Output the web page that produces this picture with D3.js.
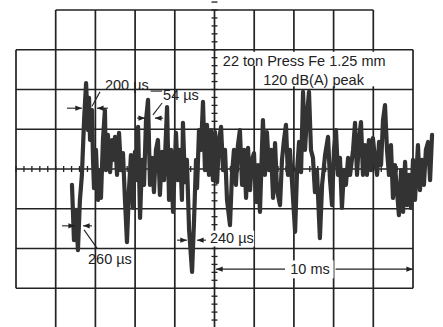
<!DOCTYPE html>
<html><head><meta charset="utf-8">
<script src="https://cdn.jsdelivr.net/npm/d3@7"></script>
<style>
html,body{margin:0;padding:0;background:#fff;}
svg{display:block;}
text{font-family:"Liberation Sans",Arial,sans-serif;fill:#222;}
</style></head>
<body>
<svg id="c" width="443" height="327"></svg>
<script>
// Time axis in ms (2 ms/div, 10 divisions), amplitude in divisions
const traceTime = [2.82,2.92,3.02,3.12,3.22,3.32,3.43,3.53,3.63,3.68,3.73,3.83,3.88,3.93,4.03,4.13,4.23,4.28,4.38,4.48,4.53,4.63,4.74,4.84,4.89,4.99,5.09,5.19,5.29,5.39,5.49,5.59,5.69,5.79,5.89,5.99,6.10,6.15,6.25,6.35,6.45,6.55,6.65,6.75,6.85,6.95,7.05,7.15,7.25,7.36,7.46,7.61,7.71,7.81,7.91,8.01,8.06,8.16,8.26,8.36,8.41,8.51,8.61,8.72,8.87,8.97,9.07,9.12,9.22,9.32,9.42,9.52,9.62,9.72,9.82,9.92,10.03,10.13,10.23,10.33,10.43,10.53,10.63,10.78,10.88,10.98,11.08,11.18,11.28,11.39,11.49,11.59,11.69,11.79,11.89,11.99,12.09,12.19,12.29,12.39,12.44,12.54,12.64,12.75,12.85,12.95,13.05,13.15,13.30,13.40,13.50,13.60,13.70,13.80,13.90,14.06,14.16,14.26,14.36,14.46,14.56,14.66,14.76,14.86,14.96,15.06,15.16,15.31,15.42,15.57,15.72,15.82,15.92,16.02,16.12,16.22,16.32,16.42,16.52,16.62,16.73,16.83,16.98,17.08,17.18,17.28,17.38,17.48,17.58,17.68,17.78,17.88,17.98,18.09,18.19,18.29,18.39,18.49,18.59,18.69,18.79,18.89,18.99,19.09,19.19,19.29,19.40,19.50,19.60,19.70,19.80,19.90,20.00,20.10,20.25,20.35,20.45,20.55,20.65,20.76,20.86,20.96];
const traceAmp = [-0.40,-1.79,-1.03,-2.04,-0.78,-0.15,1.23,2.16,0.98,1.79,0.73,1.48,0.23,-0.48,0.48,-0.78,-0.03,-0.73,0.73,1.48,-0.03,0.86,-0.08,0.73,0.23,0.81,-0.15,0.91,-0.03,0.40,-0.78,-1.84,-0.53,0.35,-0.98,0.43,-0.28,1.06,-1.23,0.23,-0.40,1.23,1.74,-0.40,0.28,-0.58,0.48,0.73,-0.65,0.43,-0.28,1.56,-0.78,0.48,-1.08,0.23,0.91,-0.28,0.48,-0.78,1.16,-0.33,0.23,-1.53,-2.59,-1.28,0.23,-0.48,0.98,0.48,1.69,-0.03,1.11,-0.15,0.98,-0.28,0.93,-0.33,0.73,1.06,-0.03,0.48,-0.78,-1.41,-0.15,0.48,-0.40,0.60,0.98,-0.40,0.48,-0.73,0.53,-0.53,0.23,0.40,-0.83,0.10,-1.08,0.48,1.23,-0.15,0.93,-0.03,0.48,-0.73,0.65,-0.53,-0.91,0.23,0.73,1.11,-0.15,0.48,-0.28,-1.58,-0.03,0.68,-0.08,1.94,0.48,1.36,1.94,0.48,0.28,-0.58,-0.03,-1.74,-0.40,0.35,0.81,-0.28,-0.91,0.48,0.98,-0.15,0.28,-0.98,-0.03,-0.40,0.28,-0.15,0.48,1.16,-0.15,0.73,1.18,-0.15,0.60,-0.15,0.73,-0.03,0.78,0.23,-0.15,0.68,0.10,1.23,1.61,0.48,-0.15,0.60,-0.73,0.10,-0.53,-1.16,-0.03,-1.08,0.18,-0.91,-0.15,-0.98,0.23,-0.78,0.60,-0.53,0.23,-0.40,0.48,0.68,-0.28,0.86];

const titleLines = ["22 ton Press Fe 1.25 mm", "120 dB(A) peak"];
const widthLabels = ["200 \u00b5s", "54 \u00b5s", "260  \u00b5s", "240 \u00b5s"];
const timebaseLabel = "10 ms";

const svg = d3.select("#c");
const x = d3.scaleLinear().domain([0, 20]).range([16, 413]);
const y = d3.scaleLinear().domain([-4, 4]).range([328, 10]);

const defs = svg.append("defs");
defs.append("marker").attr("id","ah").attr("viewBox","0 0 10 10").attr("refX",10).attr("refY",5)
  .attr("markerWidth",6).attr("markerHeight",6).attr("orient","auto-start-reverse")
  .append("path").attr("d","M0,1 L10,5 L0,9 Z").attr("fill","#222");

const gridColor = "#222";
const g = svg.append("g");
// vertical graticule lines
d3.range(0, 21, 2).forEach(t => {
  const full = t > 0 && t < 20;
  g.append("line").attr("x1", x(t)).attr("x2", x(t))
    .attr("y1", y(full ? 4 : 3)).attr("y2", y(full ? -4.2 : -3))
    .attr("stroke", gridColor).attr("stroke-width", 1.7);
});
// horizontal graticule lines
d3.range(-3, 5, 1).forEach(v => {
  const top = v === 4;
  g.append("line").attr("x1", x(top ? 2 : 0)).attr("x2", x(top ? 18 : 20))
    .attr("y1", y(v)).attr("y2", y(v))
    .attr("stroke", gridColor).attr("stroke-width", 1.7);
});
// minor ticks on the centre lines
d3.range(-4.2, 4.21, 0.2).forEach(v => {
  g.append("line").attr("x1", x(10) - 3).attr("x2", x(10) + 3)
    .attr("y1", y(v)).attr("y2", y(v)).attr("stroke", gridColor).attr("stroke-width", 1.3);
});
d3.range(0, 20.01, 0.4).forEach(t => {
  g.append("line").attr("x1", x(t)).attr("x2", x(t))
    .attr("y1", y(0) - 3).attr("y2", y(0) + 3).attr("stroke", gridColor).attr("stroke-width", 1.3);
});

// title box
svg.append("rect").attr("x", x(10.35)).attr("y", y(2.95)).attr("width", x(19.95) - x(10.35)).attr("height", y(2.6) - y(2.95)).attr("fill", "#fff");
svg.append("rect").attr("x", x(12.2)).attr("y", y(2.62)).attr("width", x(19.95) - x(12.2)).attr("height", y(2.08) - y(2.62)).attr("fill", "#fff");
svg.append("text").attr("x", x(10.42)).attr("y", y(2.6)).attr("font-size", 14.5).text(titleLines[0]);
svg.append("text").attr("x", x(12.45)).attr("y", y(2.12)).attr("font-size", 14.5).text(titleLines[1]);

// trace
const line = d3.line().x((d, i) => x(traceTime[i])).y((d, i) => y(traceAmp[i]));
svg.append("path").attr("d", line(traceAmp)).attr("fill", "none")
  .attr("stroke", "#333").attr("stroke-width", 4.2).attr("stroke-linejoin", "round").attr("stroke-linecap", "round");

// annotation helpers
const ann = svg.append("g");
function arrow(t1, v1, t2, v2) {
  ann.append("line").attr("x1", x(t1)).attr("y1", y(v1)).attr("x2", x(t2)).attr("y2", y(v2))
    .attr("stroke", "#222").attr("stroke-width", 1.1).attr("marker-end", "url(#ah)");
}
function seg(t1, v1, t2, v2) {
  ann.append("line").attr("x1", x(t1)).attr("y1", y(v1)).attr("x2", x(t2)).attr("y2", y(v2))
    .attr("stroke", "#222").attr("stroke-width", 1.1);
}
function label(t, v, s, anchor) {
  return ann.append("text").attr("x", x(t)).attr("y", y(v)).attr("font-size", 14.5)
    .attr("text-anchor", anchor || "start").text(s);
}
function bg(t1, v1, t2, v2) {
  ann.append("rect").attr("x", x(t1)).attr("y", y(v1)).attr("width", x(t2) - x(t1)).attr("height", y(v2) - y(v1)).attr("fill", "#fff");
}

// 200 us
arrow(2.57, 1.53, 3.32, 1.53); arrow(4.63, 1.53, 4.08, 1.53);
seg(4.23, 1.94, 3.83, 1.58);
label(4.48, 1.99, widthLabels[0]);
seg(6.78, 1.96, 7.36, 1.96);
// 54 us
label(7.41, 1.74, widthLabels[1]);
seg(7.36, 1.66, 6.90, 1.36);
arrow(6.10, 1.28, 6.50, 1.28); arrow(7.41, 1.28, 7.00, 1.28);
// 260 us
arrow(2.32, -1.43, 2.97, -1.43); arrow(3.83, -1.43, 3.38, -1.43);
seg(4.08, -1.99, 3.43, -1.53);
label(3.63, -2.39, widthLabels[2]);
// 240 us
arrow(8.11, -1.79, 8.61, -1.79); arrow(9.57, -1.79, 9.12, -1.79);
bg(9.75, -1.55, 12.0, -1.95);
label(9.77, -1.86, widthLabels[3]);
// 10 ms
bg(13.65, -2.3, 16.0, -2.75);
arrow(13.55, -2.52, 10.08, -2.52);
arrow(16.1, -2.52, 20.0, -2.52);
label(14.81, -2.64, timebaseLabel, "middle");
</script>
</body></html>
